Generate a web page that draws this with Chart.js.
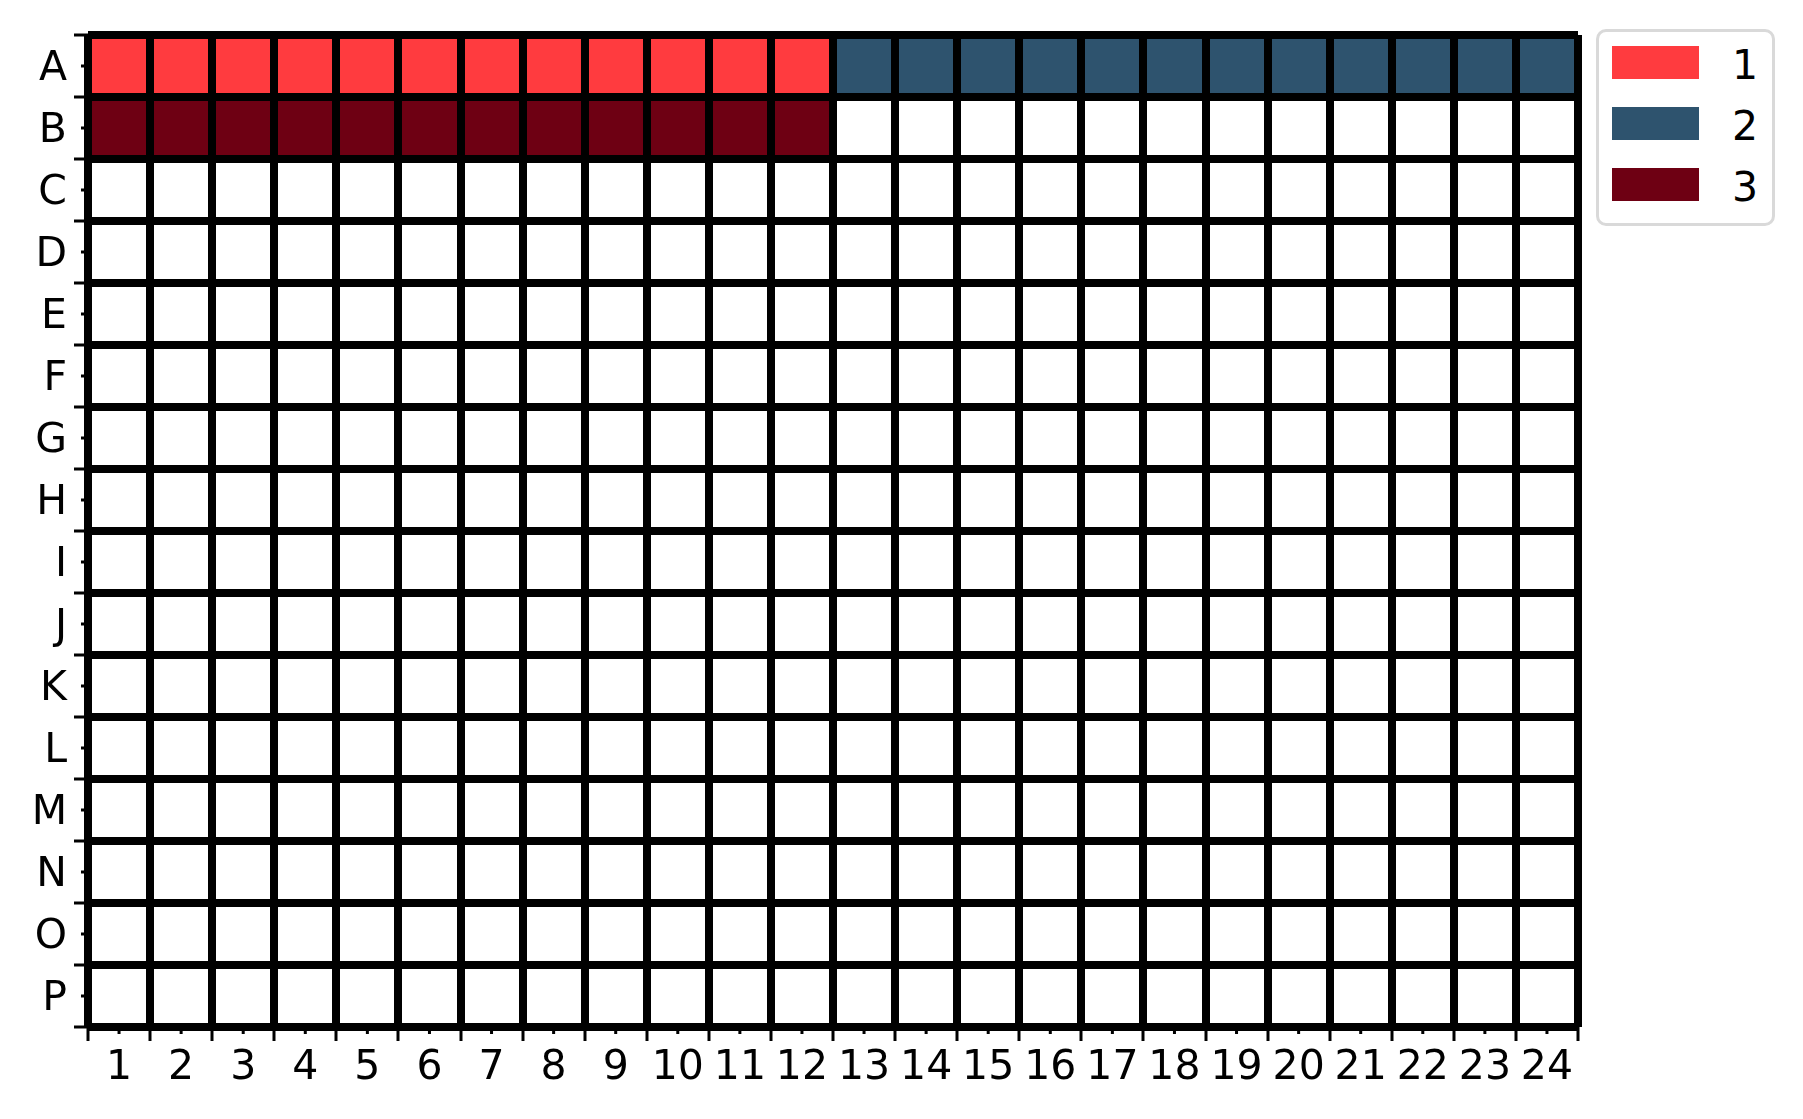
<!DOCTYPE html>
<html>
<head>
<meta charset="utf-8">
<script src="https://cdn.jsdelivr.net/npm/chart.js@4/dist/chart.umd.min.js"></script>
<style>
  html, body { margin: 0; padding: 0; background: #fff; }
  #wrap { position: relative; width: 1803px; height: 1119px; }
  #legend { position: absolute; left: 1596px; top: 29px; width: 179px; height: 197px;
    box-sizing: border-box; border: 3px solid #d9d9d9; border-radius: 10px; background: #fff;
    font-family: "DejaVu Sans", sans-serif; font-size: 41px; color: #000; }
  .sw { position: absolute; left: 13px; width: 87px; height: 33px; }
  .lb { position: absolute; left: 133px; line-height: 48px; height: 48px; }
</style>
</head>
<body>
<div id="wrap">
  <canvas id="c" width="1803" height="1119"></canvas>
  <div id="legend"></div>
</div>
<script>
const rows = ['A','B','C','D','E','F','G','H','I','J','K','L','M','N','O','P'];
const cols = ['1','2','3','4','5','6','7','8','9','10','11','12','13','14','15','16','17','18','19','20','21','22','23','24'];
const seriesLabels = ['1', '2', '3'];
const series1Wells = ['A1','A2','A3','A4','A5','A6','A7','A8','A9','A10','A11','A12'];
const series2Wells = ['A13','A14','A15','A16','A17','A18','A19','A20','A21','A22','A23','A24'];
const series3Wells = ['B1','B2','B3','B4','B5','B6','B7','B8','B9','B10','B11','B12'];

const seriesColors = ['#FF3B3F', '#2E536E', '#6E0013'];

function toPoints(wells) {
  return wells.map(w => {
    const r = rows.indexOf(w[0]);
    return { x: w.slice(1), y: [r, r + 1] };
  });
}

const allWells = [series1Wells, series2Wells, series3Wells];
const datasets = allWells.map((wells, i) => ({
  label: seriesLabels[i],
  data: toPoints(wells),
  backgroundColor: seriesColors[i],
  borderWidth: 0,
  barPercentage: 1,
  categoryPercentage: 1,
  grouped: false,
  yAxisID: 'yv'
}));

const FONT = { family: 'DejaVu Sans', size: 41 };

const minorTicks = {
  id: 'minorTicks',
  afterDraw(chart) {
    const ctx = chart.ctx;
    ctx.save();
    ctx.strokeStyle = '#000';
    ctx.lineWidth = 3;
    const xs = chart.scales.x, ys = chart.scales.y;
    ctx.beginPath();
    for (let i = 0; i < xs.ticks.length; i++) {
      const px = xs.getPixelForTick(i);
      ctx.moveTo(px, xs.top);
      ctx.lineTo(px, xs.top + 7);
    }
    for (let i = 0; i < ys.ticks.length; i++) {
      const py = ys.getPixelForTick(i);
      ctx.moveTo(ys.right, py);
      ctx.lineTo(ys.right - 7, py);
    }
    ctx.stroke();
    ctx.restore();
  }
};

const chart = new Chart(document.getElementById('c'), {
  type: 'bar',
  data: { labels: cols, datasets },
  options: {
    responsive: false,
    animation: false,
    devicePixelRatio: 1,
    layout: { padding: { left: 0, top: 35, right: 225, bottom: 0 } },
    plugins: { legend: { display: false }, tooltip: { enabled: false } },
    scales: {
      x: {
        type: 'category',
        offset: true,
        grid: { offset: true, color: '#000', lineWidth: 8, z: 1, tickLength: 14, tickWidth: 3, tickColor: '#000' },
        border: { display: false },
        ticks: { color: '#000', font: FONT, padding: 3, maxRotation: 0, autoSkip: false },
        afterFit(s) { s.height = 92; }
      },
      y: {
        type: 'category',
        labels: rows,
        offset: true,
        position: 'left',
        grid: { offset: true, color: '#000', lineWidth: 8, z: 1, tickLength: 14, tickWidth: 3, tickColor: '#000' },
        border: { display: false },
        ticks: { color: '#000', font: FONT, padding: 7, autoSkip: false, labelOffset: 3 },
        afterFit(s) { s.width = 88; }
      },
      yv: {
        type: 'linear',
        min: 0,
        max: 16,
        reverse: true,
        display: false
      }
    }
  },
  plugins: [minorTicks]
});

const legend = document.getElementById('legend');
chart.data.datasets.forEach((ds, i) => {
  const sw = document.createElement('div');
  sw.className = 'sw';
  sw.style.top = (13.5 + 61 * i) + 'px';
  sw.style.background = ds.backgroundColor;
  legend.appendChild(sw);
  const lb = document.createElement('div');
  lb.className = 'lb';
  lb.style.top = (8.5 + 61 * i) + 'px';
  lb.textContent = ds.label;
  legend.appendChild(lb);
});
</script>
</body>
</html>
